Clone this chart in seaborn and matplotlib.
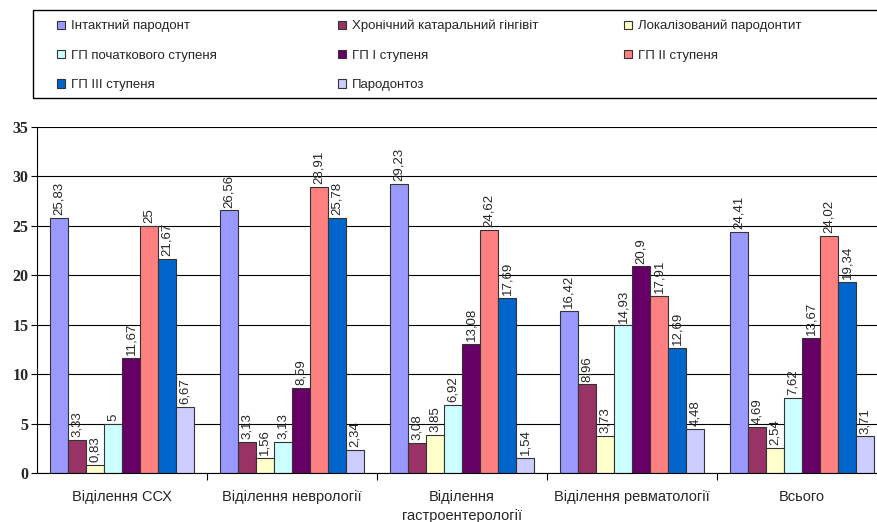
import pandas as pd
import matplotlib.pyplot as plt
import seaborn as sns
from matplotlib.patches import Rectangle

# categories and series
departments = ['Віділення ССХ', 'Віділення неврології', 'Віділення\nгастроентерології',
               'Віділення ревматології', 'Всього']
series_names = ['Інтактний пародонт', 'Хронічний катаральний гінгівіт', 'Локалізований пародонтит',
                'ГП початкового ступеня', 'ГП I ступеня', 'ГП II ступеня',
                'ГП III ступеня', 'Пародонтоз']

intact = [25.83, 26.56, 29.23, 16.42, 24.41]
gingivitis = [3.33, 3.13, 3.08, 8.96, 4.69]
localized = [0.83, 1.56, 3.85, 3.73, 2.54]
gp_initial = [5, 3.13, 6.92, 14.93, 7.62]
gp_1 = [11.67, 8.59, 13.08, 20.9, 13.67]
gp_2 = [25, 28.91, 24.62, 17.91, 24.02]
gp_3 = [21.67, 25.78, 17.69, 12.69, 19.34]
parodontosis = [6.67, 2.34, 1.54, 4.48, 3.71]

colors = ['#9999FF', '#993366', '#FFFFCC', '#CCFFFF', '#660066', '#FF8080', '#0066CC', '#CCCCFF']

all_series = [intact, gingivitis, localized, gp_initial, gp_1, gp_2, gp_3, parodontosis]
rows = []
for name, vals in zip(series_names, all_series):
    for dep, v in zip(departments, vals):
        rows.append({'dep': dep, 'series': name, 'value': v})
df = pd.DataFrame(rows)

sns.set_style('white')
plt.rcParams['font.family'] = ['Liberation Sans', 'DejaVu Sans']

fig = plt.figure(figsize=(8.78, 5.22), dpi=100)
ax = fig.add_axes([37 / 878, 49 / 522, 850 / 878, 346 / 522])

sns.barplot(data=df, x='dep', y='value', hue='series', palette=colors, width=0.85,
            edgecolor='#333333', linewidth=0.8, saturation=1, ax=ax, legend=True)

for cont in ax.containers:
    ax.bar_label(cont, fmt=lambda v: f'{v:g}'.replace('.', ','), rotation=90,
                 padding=2, fontsize=9.5)

ax.set_xlim(-0.5, 4.5)
ax.set_ylim(0, 35)
ax.set_yticks(range(0, 36, 5))
ax.yaxis.grid(True, color='black', linewidth=0.8)
ax.set_axisbelow(True)
for lbl in ax.get_yticklabels():
    lbl.set_fontfamily('Liberation Serif')
    lbl.set_fontweight('bold')
    lbl.set_fontsize(11.5)
ax.tick_params(axis='y', left=True, length=4, width=0.8, color='black', pad=2)

ax.set_xticks(range(5))
ax.set_xticklabels(departments, fontsize=10.5, linespacing=1.45)
ax.set_xticks([0.5, 1.5, 2.5, 3.5], minor=True)
ax.tick_params(axis='x', which='major', length=0, pad=12)
ax.tick_params(axis='x', which='minor', bottom=True, length=5, width=0.8, color='black',
               direction='out')
ax.set_xlabel('')
ax.set_ylabel('')

for side in ['top', 'right']:
    ax.spines[side].set_visible(False)
for side in ['left', 'bottom']:
    ax.spines[side].set_color('black')
    ax.spines[side].set_linewidth(0.8)

handles, labels = ax.get_legend_handles_labels()
ax.get_legend().remove()

# legend: three columns placed like the original, with one frame around them
columns = [[0, 3, 6], [1, 4, 7], [2, 5]]
col_x = [57, 338, 624]
for idx, x in zip(columns, col_x):
    fig.legend([handles[i] for i in idx], [labels[i] for i in idx], loc='upper left',
               bbox_to_anchor=(x / 878, 1 - 20 / 522), borderaxespad=0, borderpad=0,
               frameon=False, fontsize=9.5, handlelength=0.6, handleheight=0.6,
               handletextpad=0.45, labelspacing=1.32)
fig.patches.append(Rectangle((33 / 878, 1 - 98 / 522), 0.98, 88 / 522,
                             transform=fig.transFigure, fill=False, edgecolor='black',
                             linewidth=1, clip_on=False))

fig.savefig('out.png', dpi=100)
